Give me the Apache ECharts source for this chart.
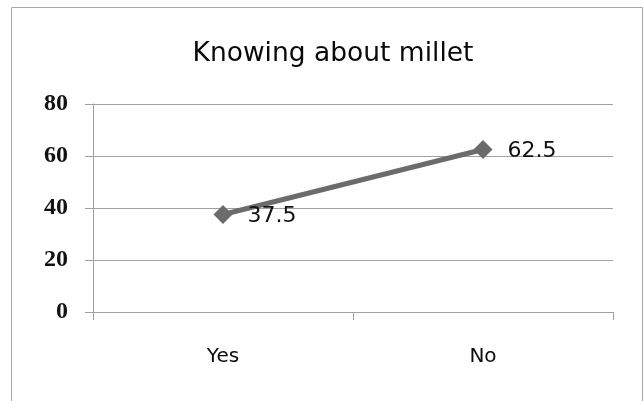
<!DOCTYPE html>
<html>
<head>
<meta charset="utf-8">
<script src="https://cdn.jsdelivr.net/npm/echarts@6/dist/echarts.min.js"></script>
<style>
  html, body { margin: 0; padding: 0; background: #fff; }
  #chart { width: 644px; height: 401px; }
</style>
</head>
<body>
<div id="chart"></div>
<script>
// Survey answers: share of respondents who know about millet
const categories = ['Yes', 'No'];
const percentValues = [37.5, 62.5];
const yTicks = [0, 20, 40, 60, 80];

const chart = echarts.init(document.getElementById('chart'));

chart.setOption({
  animation: false,
  backgroundColor: '#ffffff',
  title: {
    text: 'Knowing about millet',
    left: 328,
    textAlign: 'center',
    top: 36,
    textStyle: { fontFamily: 'DejaVu Sans', fontSize: 26.5, fontWeight: 'normal', color: '#0a0a0a' }
  },
  graphic: [{
    type: 'rect',
    shape: { x: 11.5, y: 7.5, width: 631, height: 400 },
    style: { fill: 'none', stroke: '#a8a8a8', lineWidth: 1 },
    silent: true
  }],
  grid: { left: 93, right: 31, top: 104, bottom: 89 },
  xAxis: {
    type: 'category',
    data: categories,
    boundaryGap: true,
    axisLine: { lineStyle: { color: '#a0a0a0', width: 1 } },
    axisTick: { show: true, length: 8, lineStyle: { color: '#a0a0a0' } },
    axisLabel: { margin: 35, fontFamily: 'DejaVu Sans', fontSize: 20, color: '#0a0a0a' }
  },
  yAxis: {
    type: 'value',
    min: yTicks[0],
    max: yTicks[yTicks.length - 1],
    interval: 20,
    axisLine: { show: true, lineStyle: { color: '#a0a0a0', width: 1 } },
    axisTick: { show: true, length: 8, lineStyle: { color: '#a0a0a0' } },
    splitLine: { lineStyle: { color: '#a0a0a0', width: 1 } },
    axisLabel: { margin: 25, fontFamily: 'Liberation Serif', fontWeight: 'bold', fontSize: 24, color: '#111' }
  },
  series: [{
    type: 'line',
    data: percentValues,
    symbol: 'diamond',
    symbolSize: 19,
    itemStyle: { color: '#6b6b6b' },
    lineStyle: { color: '#6b6b6b', width: 5 },
    label: {
      show: true,
      position: 'right',
      distance: 15,
      offset: [0, 2],
      fontFamily: 'DejaVu Sans',
      fontSize: 22,
      color: '#111'
    }
  }]
});
</script>
</body>
</html>
